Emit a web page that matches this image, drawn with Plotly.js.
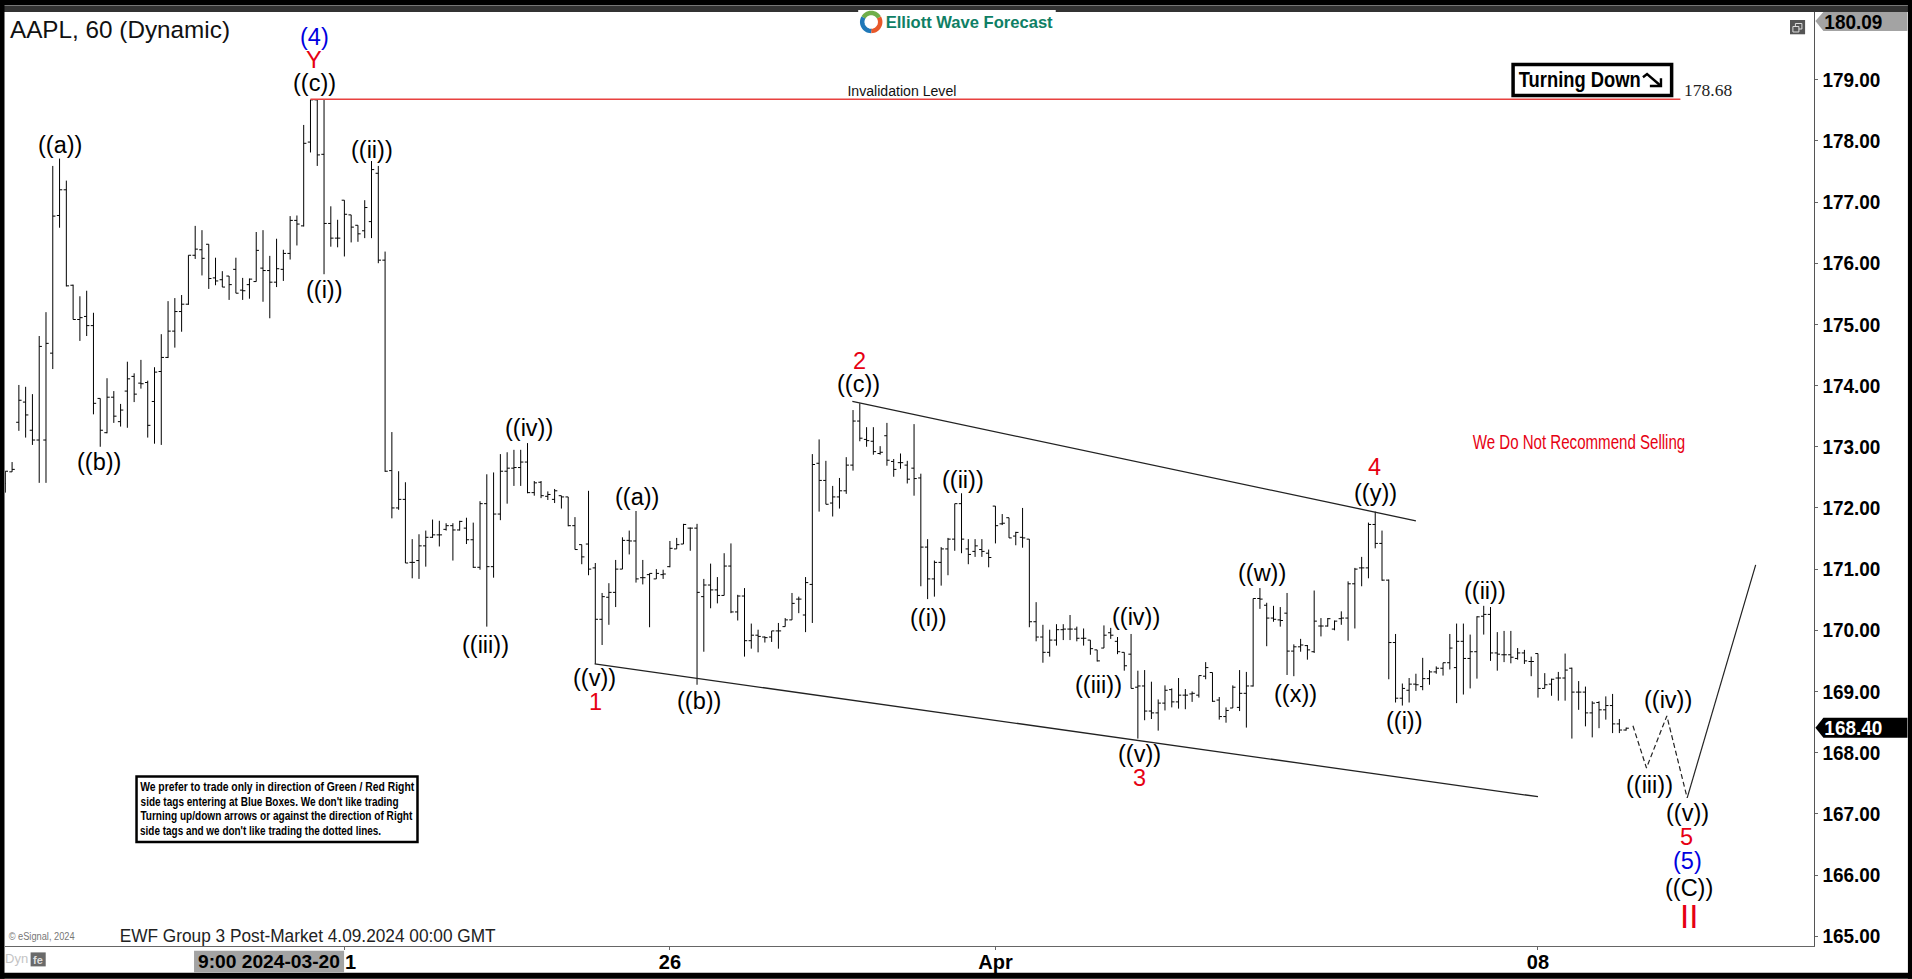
<!DOCTYPE html>
<html><head><meta charset="utf-8">
<script src="https://cdn.plot.ly/plotly-3.0.1.min.js"></script>
<style>html,body{margin:0;padding:0;background:#000;overflow:hidden}#c{width:1912px;height:979px}</style>
</head><body><div id="c"></div>
<script>
const opens=[172.40,172.59,173.40,173.73,173.27,173.11,173.11,174.53,176.78,177.20,
175.64,175.08,175.13,174.98,173.79,173.23,173.81,173.41,173.91,174.15,
174.04,174.05,173.74,174.23,174.46,174.89,175.21,175.33,176.13,176.22,
176.31,175.76,175.73,175.79,175.90,175.56,175.65,175.70,175.92,175.88,
175.69,175.90,176.16,176.70,176.61,177.98,178.67,177.78,176.65,176.41,
177.03,176.79,176.62,176.53,176.68,177.47,176.05,172.61,172.00,172.14,
171.11,171.14,171.38,171.52,171.56,171.65,171.71,171.64,171.67,171.48,
171.03,172.07,171.04,171.90,172.60,172.65,172.66,172.75,172.25,172.42,
172.19,172.14,172.20,172.18,171.71,171.40,171.41,171.02,170.18,170.54,
170.62,171.00,171.47,171.46,170.86,170.91,170.84,170.91,171.04,171.33,
171.41,171.67,171.67,170.55,170.74,170.66,170.57,171.05,170.30,170.56,
169.83,169.92,169.89,169.89,169.99,170.06,170.17,170.51,170.25,170.75,
172.73,172.45,172.08,172.18,172.28,172.70,173.42,173.12,173.09,172.89,
173.18,172.76,172.74,172.70,172.65,172.49,171.36,170.84,171.11,171.33,
171.49,172.07,171.33,171.29,171.32,171.26,172.03,171.74,171.84,171.54,
171.52,171.49,170.14,169.89,169.64,169.84,170.01,170.02,170.02,169.87,
169.84,169.68,169.71,169.96,169.82,169.64,169.61,169.07,169.09,168.68,
168.65,168.81,169.03,168.83,168.94,168.96,168.94,169.25,169.31,168.86,
168.59,168.73,168.74,168.97,169.09,170.52,170.41,170.20,170.17,170.28,
169.66,169.73,169.75,169.65,170.07,170.07,170.02,170.19,170.20,170.76,
171.02,171.02,171.73,171.42,170.82,169.80,168.89,169.02,169.12,169.08,
169.21,169.32,169.38,169.47,169.39,169.82,169.54,169.65,170.23,170.26,
169.63,169.60,169.60,169.54,169.63,169.49,169.62,169.05,169.12,169.22,
169.22,169.38,168.99,168.99,168.65,168.82,168.70,168.77,168.47,168.37];
const highs=[172.60,172.75,174.01,173.98,173.86,174.81,175.20,177.59,177.71,177.35,
175.65,175.46,175.55,175.19,173.79,174.12,173.91,173.70,174.39,174.20,
174.42,174.08,174.30,174.84,175.38,175.43,175.48,176.13,176.61,176.54,
176.31,176.09,175.87,175.79,176.09,175.76,175.75,176.51,176.54,176.12,
176.40,176.22,176.77,176.78,178.26,178.67,178.67,178.68,176.93,176.71,
177.03,176.79,176.62,177.03,177.67,177.59,176.19,173.24,172.60,172.42,
171.49,171.57,171.63,171.81,171.79,171.75,171.75,171.79,171.84,171.76,
172.11,172.55,172.58,172.88,172.91,172.95,172.95,173.06,172.44,172.44,
172.27,172.31,172.20,172.18,171.85,171.40,172.28,171.10,170.61,170.77,
171.15,171.52,171.63,171.95,171.15,170.93,171.00,170.99,171.46,171.51,
171.74,171.68,171.74,170.84,171.09,170.87,171.26,171.42,170.58,170.69,
170.11,170.01,169.90,169.99,170.12,170.20,170.61,170.55,170.87,172.88,
173.12,172.77,172.36,172.49,172.83,173.60,173.71,173.32,173.32,173.01,
173.39,172.80,172.89,172.77,173.37,172.56,171.49,171.14,171.36,171.51,
172.07,172.24,171.49,171.49,171.49,171.32,172.03,171.90,171.84,171.61,
172.00,171.49,170.46,170.09,170.01,170.10,170.10,170.25,170.06,170.03,
169.84,169.68,170.08,170.04,169.89,169.64,169.94,169.34,169.35,169.16,
168.87,169.10,169.05,169.22,169.04,169.00,169.26,169.48,169.31,168.91,
168.74,169.10,169.35,169.32,170.52,170.69,170.45,170.40,170.38,170.61,
169.77,169.86,169.76,170.65,170.20,170.20,170.16,170.31,170.80,171.02,
171.20,171.76,171.94,171.63,170.83,169.94,169.13,169.22,169.29,169.55,
169.35,169.41,169.47,169.94,170.11,170.11,169.93,170.23,170.40,170.38,
169.97,169.99,169.99,169.71,169.68,169.57,169.62,169.30,169.21,169.32,
169.62,169.39,169.17,169.08,168.84,168.84,168.92,168.96,168.55,168.41];
const lows=[172.25,172.59,173.26,173.15,173.03,172.41,172.41,174.27,176.58,175.62,
175.08,174.73,174.81,173.53,173.00,173.22,173.39,173.33,173.31,173.73,
173.95,173.15,173.05,173.03,174.45,174.62,174.88,175.32,176.07,175.80,
175.58,175.64,175.61,175.40,175.51,175.40,175.42,175.70,175.37,175.10,
175.61,175.71,176.06,176.29,176.60,177.81,177.59,175.82,176.27,176.26,
176.11,176.34,176.35,176.41,176.41,176.00,172.59,171.83,171.97,171.10,
170.85,170.84,171.04,171.51,171.37,171.63,171.14,171.63,171.41,171.02,
170.99,170.06,170.86,171.80,172.07,172.36,172.36,172.24,172.20,172.16,
172.13,172.08,171.99,171.70,171.32,171.08,170.90,169.45,169.76,170.09,
170.38,171.00,171.24,170.78,170.75,170.05,170.84,170.84,171.03,171.33,
171.41,171.30,169.11,169.65,170.36,170.44,170.57,170.28,170.16,169.57,
169.70,169.64,169.80,169.81,169.70,170.06,170.17,170.28,169.97,170.12,
171.94,172.06,171.86,171.99,172.23,172.61,173.09,173.00,172.87,172.87,
172.69,172.51,172.64,172.40,172.20,170.72,170.51,170.55,170.73,170.90,
171.30,171.26,171.08,171.20,171.20,171.03,171.42,171.72,171.51,171.39,
171.35,170.05,169.82,169.47,169.57,169.75,169.84,169.84,169.82,169.75,
169.60,169.49,169.71,169.86,169.61,169.34,169.05,168.23,168.53,168.55,
168.36,168.69,168.74,168.72,168.71,168.83,168.90,169.20,168.83,168.54,
168.49,168.73,168.68,168.41,169.08,170.35,169.74,170.14,170.06,169.27,
169.25,169.65,169.52,169.63,169.90,170.06,170.00,170.09,169.83,170.03,
170.72,170.85,171.34,170.81,169.20,168.82,168.77,168.82,169.01,169.02,
169.11,169.29,169.26,169.36,168.81,168.95,169.05,169.21,169.93,169.50,
169.34,169.48,169.46,169.52,169.45,169.25,168.90,169.05,168.93,168.85,
168.85,168.23,168.70,168.43,168.25,168.40,168.54,168.32,168.32,168.36];
const closes=[172.60,172.63,173.76,173.52,173.11,174.64,174.69,176.77,177.20,175.63,
175.08,175.11,174.98,173.71,173.27,173.81,173.50,173.60,174.11,173.86,
174.03,173.35,174.22,174.46,174.89,175.21,175.33,176.13,176.23,176.08,
175.75,175.71,175.61,175.65,175.51,175.55,175.74,176.21,175.88,175.69,
175.91,176.16,176.70,176.64,177.96,178.67,177.77,176.65,176.41,176.41,
176.80,176.59,176.48,176.91,177.53,176.05,172.60,172.00,172.14,171.10,
171.11,171.38,171.52,171.56,171.56,171.71,171.64,171.78,171.48,171.03,
172.07,171.04,171.90,172.60,172.65,172.66,172.75,172.25,172.41,172.20,
172.22,172.28,172.18,171.71,171.32,171.20,171.00,170.18,170.55,170.62,
171.00,171.47,171.46,170.84,170.86,170.93,170.93,170.92,171.34,171.40,
171.73,171.67,170.62,170.74,170.66,170.57,171.05,170.30,170.56,169.83,
169.92,169.90,169.88,169.99,169.99,170.17,170.44,170.51,170.78,172.71,
172.45,172.06,172.18,172.28,172.70,173.42,173.14,173.10,172.92,172.91,
172.78,172.63,172.74,172.47,172.48,171.36,170.84,171.11,171.33,171.49,
172.07,171.49,171.24,171.38,171.29,171.19,171.71,171.75,171.51,171.60,
171.51,170.14,169.89,169.64,169.84,170.01,170.02,170.02,169.87,169.87,
169.70,169.50,169.92,169.92,169.65,169.42,169.05,169.09,168.68,168.65,
168.81,169.02,168.83,168.94,168.94,168.97,169.26,169.39,168.84,168.59,
168.69,169.07,168.97,169.09,170.52,170.51,170.20,170.18,170.16,169.66,
169.73,169.76,169.68,170.15,170.07,170.19,170.15,170.20,170.76,171.00,
171.02,171.73,171.42,170.82,169.80,168.89,169.05,169.12,169.11,169.21,
169.32,169.38,169.47,169.71,169.82,169.54,169.65,170.22,170.26,169.63,
169.61,169.60,169.56,169.63,169.50,169.49,169.05,169.11,169.20,169.22,
169.35,168.99,168.99,168.65,168.81,168.70,168.77,168.47,168.37,168.40];

const priceTicks=[165,166,167,168,169,170,171,172,173,174,175,176,177,178,179];
const dateTickBars=[50,98,146,226];
const dateTickLabels=["","26","Apr","08"];

const invalidationBars=[45,247];
const invalidationPrices=[178.68,178.68];
const upperWedgeBars=[124.9,208];
const upperWedgePrices=[173.74,171.79];
const lowerWedgeBars=[86.9,226];
const lowerWedgePrices=[169.45,167.28];
const projectionBars=[240,242,245,248];
const projectionPrices=[168.44,167.75,168.60,167.26];
const reversalBars=[248,258.1];
const reversalPrices=[167.26,171.07];

const BLK="#000000", RED="#e60012", BLU="#0000e0";
const waveLabels=[
 ["(4)",314,37,BLU],["Y",314,60,RED],["((c))",314,83,BLK],["((a))",60.4,145,BLK],["((b))",99,462,BLK],
 ["((i))",324.5,290,BLK],["((ii))",372,150,BLK],["((iii))",485.7,645,BLK],["((iv))",528.6,428,BLK],
 ["((v))",594.7,678,BLK],["1",595.5,702,RED],["((a))",636.7,496.7,BLK],["((b))",699,701.7,BLK],
 ["2",859,361,RED],["((c))",858,384,BLK],["((i))",928.6,617.7,BLK],["((ii))",962.7,480.5,BLK],
 ["((iii))",1098,685.7,BLK],["((iv))",1136,616.7,BLK],["((v))",1139,754,BLK],["3",1139,778,RED],
 ["((w))",1262,573,BLK],["((x))",1295.7,694,BLK],["4",1374,466.7,RED],["((y))",1375,493,BLK],
 ["((i))",1404,721,BLK],["((ii))",1485,591.5,BLK],["((iii))",1648.7,785,BLK],["((iv))",1668,700,BLK],
 ["((v))",1686.7,813,BLK],["5",1686,837.7,RED],["(5)",1687.5,861.7,BLU],["((C))",1689,888,BLK]
];
const noticeLines=[
 "We prefer to trade only in direction of Green / Red Right",
 "side tags entering at Blue Boxes. We don't like trading",
 "Turning up/down arrows or against the direction of Right",
 "side tags and we don't like trading the dotted lines."
];
const noticeWidths=[274,258,272,241];

const W=1912,H=979,L=5,R=1813.6,T=12,B=946.3;
const px=x=>(x-L)/(R-L), py=y=>(B-y)/(B-T);
const SANS="Liberation Sans, Arial, sans-serif";
const fits=[];
const annotations=[];
function note(text,x,y,size,color,o){o=o||{};
 annotations.push({xref:"paper",yref:"paper",x:px(x),y:py(y),text:text,showarrow:false,xanchor:o.anchor||"center",yanchor:"middle",
  font:{family:o.family||SANS,size:size,color:color||"#000",weight:o.weight||400},borderpad:0,borderwidth:0});
 if(o.len)fits.push([annotations.length-1,o.len]);}
function rect(x0,y0,x1,y1,fill,opt){return Object.assign({type:"rect",xref:"paper",yref:"paper",x0:px(x0),x1:px(x1),y0:py(y0),y1:py(y1),
 fillcolor:fill,line:{width:0},layer:"above"},opt||{});}
function poly(pts,fill,opt){return Object.assign({type:"path",xref:"paper",yref:"paper",
 path:pts.map((p,i)=>(i?"L":"M")+px(p[0])+","+py(p[1])).join(" ")+(fill?" Z":""),fillcolor:fill||"rgba(0,0,0,0)",line:{width:0},layer:"above"},opt||{});}
function arc(cx,cy,r,a0,a1,color,w){const p=[];for(let i=0;i<=14;i++){const a=(a0+(a1-a0)*i/14)*Math.PI/180;p.push([cx+r*Math.cos(a),cy+r*Math.sin(a)]);}
 return poly(p,null,{line:{color:color,width:w}});}

const shapes=[
 rect(0,0,W,5,"#000"),rect(0,5,W,6,"#777"),rect(0,6,W,12,"#333"),
 rect(0,0,4.5,H,"#000"),rect(0,973,W,H,"#000"),rect(1907.5,0,W,H,"#000"),
 rect(858,10,1055.5,34,"#fff"),
 arc(871,22,9,-150,-30,"#6fae4a",4.5),arc(871,22,9,-30,90,"#e8582a",4.5),arc(871,22,9,90,210,"#1f78b8",4.5),
 rect(1789.6,20,1804.7,34.3,"#555"),
 rect(1795,23.5,1801.5,29,"#555",{line:{color:"#ddd",width:1}}),rect(1792.5,26.5,1798.5,32,"#555",{line:{color:"#ddd",width:1}}),
 poly([[1815,21],[1823,12],[1907,12],[1907,31],[1823,31]],"#a3a3a3"),
 poly([[1815,728],[1823,718],[1907,718],[1907,738],[1823,738]],"#000"),
 rect(1512.75,64.5,1671.25,95.5,"#fff",{line:{color:"#000",width:3.5}}),
 poly([[1642.6,77.3],[1646.7,74],[1660.6,86]],null,{line:{color:"#000",width:2.4}}),
 poly([[1660.6,78.3],[1660.6,86],[1649.5,86]],null,{line:{color:"#000",width:2.4}}),
 rect(136.5,776.7,417.4,842.3,"#fff",{line:{color:"#000",width:2.5}}),
 rect(30.6,952.7,45.7,966.7,"#6a6a6a"),
 rect(194,951,344,972.7,"#a3a3a3")
];

waveLabels.forEach(w=>note(w[0],w[1],w[2],23.5,w[3]));
note("II",1689,916.7,33,RED);
note("AAPL, 60 (Dynamic)",119.7,30,24.5,"#111",{len:220});
note("Elliott Wave Forecast",969.5,22,16.5,"#0f7f65",{weight:700,len:167});
note("Invalidation Level",901.5,90.5,15.5,"#111",{len:109});
note("178.68",1708,90,17.5,"#222",{family:"Liberation Serif, serif"});
note("Turning Down",1580,80,22.5,"#000",{weight:700,len:122});
note("We Do Not Recommend Selling",1579,442,20,RED,{len:212.5});
noticeLines.forEach((t,i)=>note(t,140+noticeWidths[i]/2,786.7+i*14.6,13,"#000",{weight:700,len:noticeWidths[i]}));
note("EWF Group 3 Post-Market 4.09.2024 00:00 GMT",307.8,936,17.5,"#222",{len:376});
note("© eSignal, 2024",42,937,10,"#777",{len:66});
note("Dyn",16,959,13,"#c4c4c4");
note("fe",38,960,11,"#ddd",{weight:700});
note("9:00 2024-03-20",268.5,962,19.2,"#000",{weight:700});
note("1",350.5,962,20,"#000",{weight:700});
note("180.09",1853,22,20.5,"#000",{weight:700,len:58});
note("168.40",1853,728,20.5,"#fff",{weight:700,len:58});

const lineT=(x,y,c,w,d)=>({type:"scatter",mode:"lines",x:x,y:y,hoverinfo:"skip",showlegend:false,line:{color:c,width:w,dash:d||"solid"}});
const data=[
 {type:"ohlc",x:opens.map((_,i)=>i),open:opens,high:highs,low:lows,close:closes,tickwidth:0.4,hoverinfo:"skip",showlegend:false,
  increasing:{line:{color:"#000",width:1}},decreasing:{line:{color:"#000",width:1}}},
 lineT(invalidationBars,invalidationPrices,"#e8413f",1.3),
 lineT(upperWedgeBars,upperWedgePrices,"#222",1.3),
 lineT(lowerWedgeBars,lowerWedgePrices,"#222",1.3),
 lineT(projectionBars,projectionPrices,"#222",1.2,"5px,3px"),
 lineT(reversalBars,reversalPrices,"#222",1.2)
];
const layout={width:W,height:H,margin:{l:L,r:W-R,t:T,b:H-B,pad:0},autosize:false,showlegend:false,
 paper_bgcolor:"#fff",plot_bgcolor:"#fff",
 xaxis:{type:"linear",range:[-0.044,266.7],rangeslider:{visible:false},showgrid:false,zeroline:false,tickmode:"array",
  tickvals:dateTickBars,ticktext:dateTickLabels,ticks:"outside",ticklen:3,tickcolor:"#666",showline:true,linecolor:"#666",linewidth:1.3,
  ticklabelstandoff:-5,tickfont:{family:SANS,size:20,color:"#000",weight:700}},
 yaxis:{side:"right",range:[164.84,180.106],showgrid:false,zeroline:false,tickmode:"array",tickvals:priceTicks,tickformat:".2f",
  ticks:"outside",ticklen:3,tickcolor:"#666",showline:true,linecolor:"#555",linewidth:1.3,
  tickfont:{family:SANS,size:20.5,color:"#000",weight:700}},
 shapes:shapes,annotations:annotations,hovermode:false,dragmode:false};
Plotly.newPlot("c",data,layout,{displayModeBar:false,staticPlot:true}).then(()=>{
 const fit=(n,len)=>{if(n){n.setAttribute("textLength",len);n.setAttribute("lengthAdjust","spacingAndGlyphs");}};
 const nodes=document.querySelectorAll(".annotation");
 fits.forEach(f=>{const g=nodes[f[0]];if(g)fit(g.querySelector("text"),f[1]);});
 document.querySelectorAll(".ytick text").forEach(n=>fit(n,58));
});
</script></body></html>
